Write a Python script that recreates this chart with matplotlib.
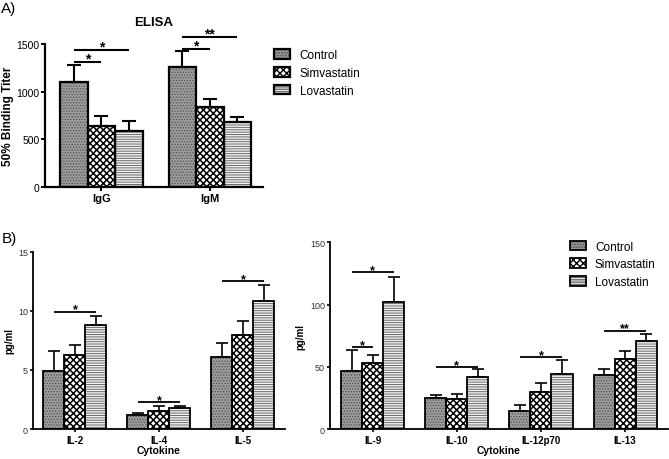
import numpy as np
import matplotlib
matplotlib.use("Agg")
import matplotlib.pyplot as plt

plt.rcParams["font.family"] = ["Liberation Sans", "DejaVu Sans"]

# ---- data ----
groups = ["Control", "Simvastatin", "Lovastatin"]

elisa_cats = ["IgG", "IgM"]
elisa_mean = {"Control": [1100, 1258], "Simvastatin": [645, 836], "Lovastatin": [590, 679]}
elisa_err = {"Control": [180, 165], "Simvastatin": [97, 88], "Lovastatin": [102, 58]}
# (cat index, from group, to group, y, label)
elisa_sig = [(0, 0, 1, 1314, "*"), (0, 0, 2, 1440, "*"), (1, 0, 1, 1447, "*"), (1, 0, 2, 1577, "**")]

cyt1_cats = ["IL-2", "IL-4", "IL-5"]
cyt1_mean = {"Control": [4.93, 1.18, 6.12], "Simvastatin": [6.26, 1.55, 7.95], "Lovastatin": [8.8, 1.78, 10.83]}
cyt1_err = {"Control": [1.64, 0.17, 1.16], "Simvastatin": [0.84, 0.37, 1.22], "Lovastatin": [0.79, 0.19, 1.37]}
cyt1_sig = [(0, 0, 2, 9.93, "*"), (1, 0, 2, 2.26, "*"), (2, 0, 2, 12.52, "*")]

cyt2_cats = ["IL-9", "IL-10", "IL-12p70", "IL-13"]
cyt2_mean = {"Control": [46.3, 24.6, 14.5, 43.1], "Simvastatin": [53.0, 24.1, 29.5, 56.0],
             "Lovastatin": [102.3, 42.1, 44.2, 70.7]}
cyt2_err = {"Control": [17.5, 3.0, 5.1, 5.1], "Simvastatin": [6.7, 4.0, 7.5, 6.4],
            "Lovastatin": [20.1, 5.8, 11.0, 5.4]}
cyt2_sig = [(0, 0, 2, 125.9, "*"), (0, 0, 1, 65.6, "*"), (1, 0, 2, 49.8, "*"),
            (2, 0, 2, 57.6, "*"), (3, 0, 2, 78.8, "**")]

# fill, hatch, hatch colour, hatch linewidth per group
STYLE = {
    "Control": ("#9c9c9c", "......", "#505050", 0.6),
    "Simvastatin": ("white", "xxxxx", "black", 1.1),
    "Lovastatin": ("#f2f2f2", "-------", "#6a6a6a", 0.7),
}


def bars(ax, cats, mean, err, width, lw, cap, elw):
    x = np.arange(len(cats))
    handles = []
    for i, g in enumerate(groups):
        pos = x + (i - 1) * width
        fc, h, hc, hlw = STYLE[g]
        with plt.rc_context({"hatch.linewidth": hlw}):
            fill = ax.bar(pos, mean[g], width, color=fc, hatch=h, edgecolor=hc, linewidth=0, zorder=2)
        edge = ax.bar(pos, mean[g], width, fill=False, edgecolor="black", linewidth=lw, zorder=3)
        ax.errorbar(pos, mean[g], yerr=[np.zeros(len(cats)), err[g]], fmt="none",
                    ecolor="black", elinewidth=elw, capsize=cap, capthick=elw, zorder=1)
        handles.append((fill[0], edge[0]))
    ax.set_xticks(x)
    ax.set_xticklabels(cats, fontweight="bold")
    for s in ["top", "right"]:
        ax.spines[s].set_visible(False)
    for s in ["left", "bottom"]:
        ax.spines[s].set_linewidth(lw)
    return handles


def sig(ax, lines, width, lw, fs, off):
    for c, a, b, y, lab in lines:
        x0 = c + (a - 1) * width
        x1 = c + (b - 1) * width
        ax.plot([x0, x1], [y, y], color="black", lw=lw, clip_on=False, solid_capstyle="butt")
        ax.annotate(lab, ((x0 + x1) / 2, y), xytext=(0, off), textcoords="offset points",
                    ha="center", va="baseline", fontsize=fs, fontweight="bold", annotation_clip=False)


fig = plt.figure(figsize=(6.69, 4.60), dpi=100)
leg_kw = dict(frameon=False, fontsize=8.5, handlelength=1.35, handleheight=0.9,
              handletextpad=0.8, labelspacing=0.5, borderaxespad=0)

# ---- panel A ----
axA = fig.add_axes([0.0673, 0.591, 0.3257, 0.311])
hA = bars(axA, elisa_cats, elisa_mean, elisa_err, 0.253, 1.6, 5, 1.5)
axA.set_xlim(-0.52, 1.49)
axA.set_ylim(0, 1500)
axA.set_yticks([0, 500, 1000, 1500])
axA.tick_params(axis="y", labelsize=7.5, width=1.4, length=3, pad=1)
axA.tick_params(axis="x", labelsize=8, width=1.4, length=3, pad=1)
axA.set_ylabel("50% Binding Titer", fontsize=8.5, fontweight="bold", labelpad=2)
axA.set_title("ELISA", fontsize=9.5, fontweight="bold", pad=14)
sig(axA, elisa_sig, 0.253, 1.5, 10, -0.5)
axA.legend(hA, groups, loc="upper left", bbox_to_anchor=(1.03, 1.0), **leg_kw)
fig.text(0.002, 0.995, "A)", fontsize=11, va="top", ha="left")

# ---- panel B left ----
axB1 = fig.add_axes([0.0493, 0.0652, 0.3767, 0.3855])
bars(axB1, cyt1_cats, cyt1_mean, cyt1_err, 0.25, 1.3, 4, 1.2)
axB1.set_xlim(-0.5, 2.5)
axB1.set_ylim(0, 15)
axB1.set_yticks([0, 5, 10, 15])
axB1.tick_params(axis="y", labelsize=6.5, width=1.2, length=2.5, pad=1, labelcolor="#333333")
axB1.tick_params(axis="x", labelsize=7, width=1.2, length=2.5, pad=1.5)
axB1.set_ylabel("pg/ml", fontsize=7, fontweight="bold", labelpad=3)
axB1.set_xlabel("Cytokine", fontsize=7.5, fontweight="bold", labelpad=0.5)
sig(axB1, cyt1_sig, 0.25, 1.3, 9, -0.5)
fig.text(0.002, 0.495, "B)", fontsize=11, va="top", ha="left")

# ---- panel B right ----
axB2 = fig.add_axes([0.493, 0.0652, 0.5055, 0.4058])
hB = bars(axB2, cyt2_cats, cyt2_mean, cyt2_err, 0.25, 1.3, 4, 1.2)
axB2.set_xlim(-0.51, 3.51)
axB2.set_ylim(0, 150)
axB2.set_yticks([0, 50, 100, 150])
axB2.tick_params(axis="y", labelsize=6.5, width=1.2, length=2.5, pad=1, labelcolor="#333333")
axB2.tick_params(axis="x", labelsize=7, width=1.2, length=2.5, pad=1.5)
axB2.set_ylabel("pg/ml", fontsize=7, fontweight="bold", labelpad=3)
axB2.set_xlabel("Cytokine", fontsize=7.5, fontweight="bold", labelpad=0.5)
sig(axB2, cyt2_sig, 0.25, 1.3, 9, -0.5)
axB2.legend(hB, groups, loc="upper left", bbox_to_anchor=(0.695, 1.035), **leg_kw)

fig.savefig("out.png", dpi=100)
